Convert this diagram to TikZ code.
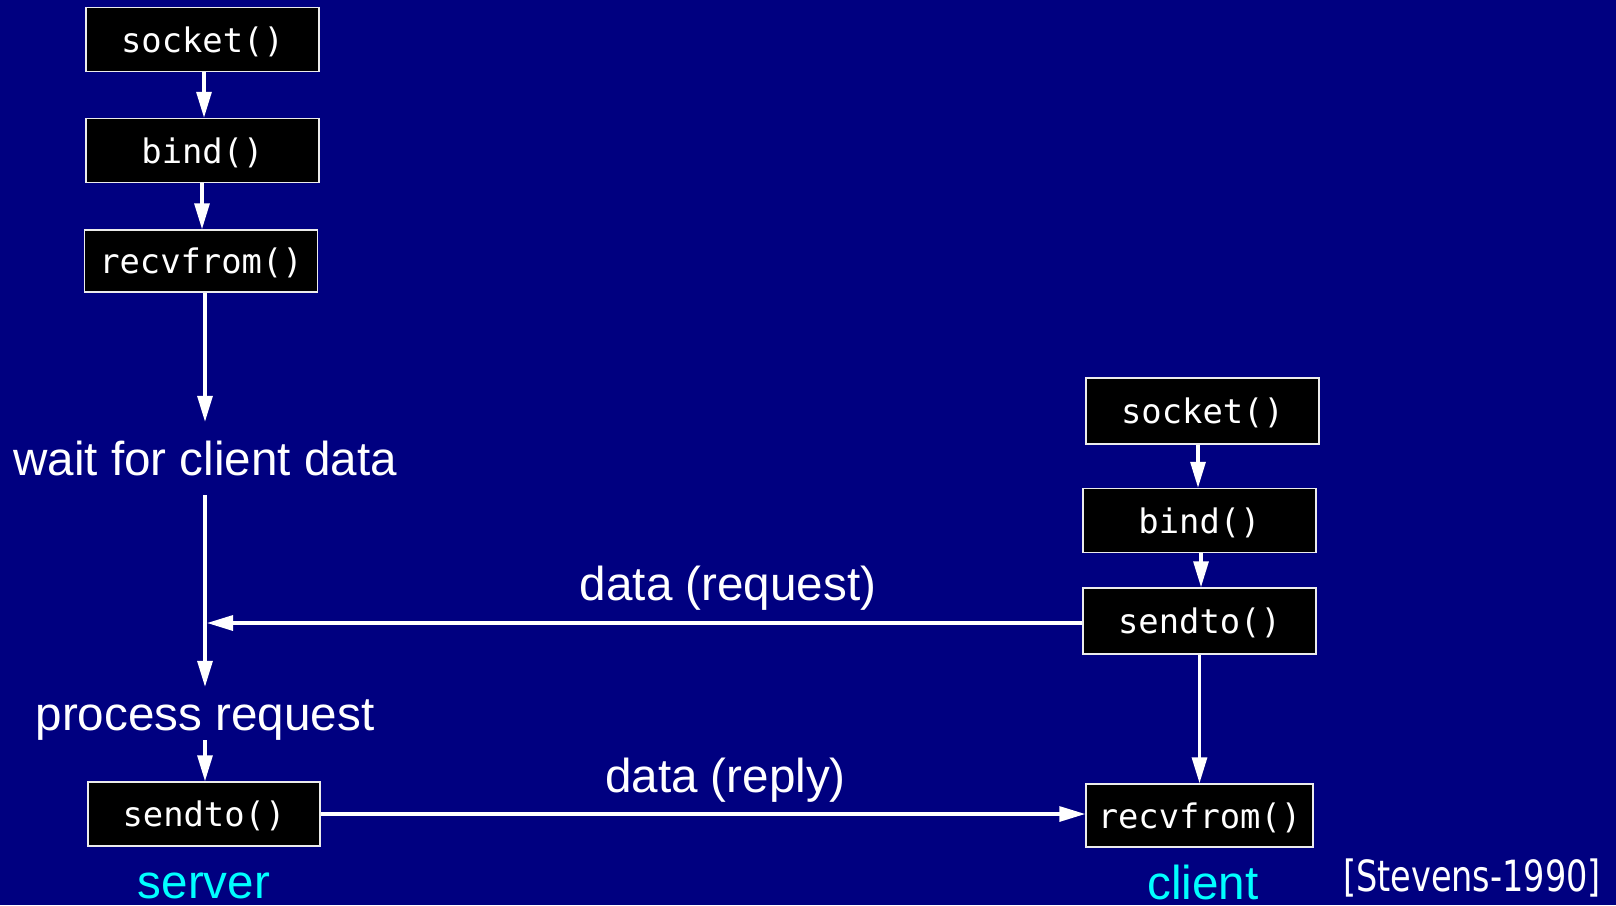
\documentclass[tikz,border=0pt]{standalone}
\usepackage{fontspec}
\setmainfont{Liberation Sans}
\newfontfamily\callfont{DejaVu Sans Mono}
\newfontfamily\citefont{DejaVu Sans}
\usetikzlibrary{arrows.meta,calc}
\definecolor{slidebg}{HTML}{000080}
\definecolor{rolecol}{HTML}{00FFFF}
\begin{document}
\begin{tikzpicture}[x=1pt,y=-1pt,
  call/.style={draw=white!92!black, line width=1.5pt, fill=black, text=white,
    minimum width=233pt, minimum height=64pt, inner sep=0pt,
    text height=25pt, text depth=0pt,
    font=\callfont\fontsize{33.8}{37}\selectfont},
  lbl/.style={text=white, inner sep=0pt, anchor=base,
    font=\fontsize{47.6}{52}\selectfont},
  role/.style={text=rolecol, inner sep=0pt, anchor=base,
    font=\fontsize{47.6}{52}\selectfont},
  flow/.style={draw=white, line width=3.2pt,
    -{Triangle[length=26pt,width=15pt]}}]
  \fill[slidebg] (0,0) rectangle (1616,905);
  \useasboundingbox (0,0) rectangle (1616,905);

  % server side
  \node[call] (lsock) at (202.5,39.5) {socket()};
  \node[call] (lbind) at (202.5,150.5) {bind()};
  \node[call, minimum height=62pt] (lrecv) at (201,261) {recvfrom()};
  \node[lbl, text height=33pt, text depth=0pt, inner ysep=20pt] (wait) at (205,475) {wait for client data};
  \node[lbl, text height=33pt, text depth=0pt, inner ysep=10pt] (proc) at (205,730) {process request};
  \node[call, minimum width=232pt] (lsend) at (204,814) {sendto()};
  \node[role] (srv) at (204,898) {server};

  % client side
  \node[call, minimum height=66pt] (rsock) at (1202.5,411) {socket()};
  \node[call] (rbind) at (1199.5,520.5) {bind()};
  \node[call, minimum height=66pt] (rsend) at (1199.5,621) {sendto()};
  \node[call, minimum width=227pt, minimum height=63pt] (rrecv) at (1199.5,815.5) {recvfrom()};
  \node[role] (cli) at (1203,899) {client};

  % message labels and citation
  \node[lbl] (req) at (728,600) {data (request)};
  \node[lbl] (rep) at (725.5,792) {data (reply)};
  \node[text=white, inner sep=0pt, anchor=base, font=\citefont\fontsize{43}{46}\selectfont]
    (cite) at (1472,891) {\scalebox{0.78}[1]{[Stevens-1990]}};

  % server flow
  \draw[flow] (lsock.south -| 204,0) -- (lbind.north -| 204,0);
  \draw[flow] (lbind.south -| 202,0) -- (lrecv.north -| 202,0);
  \draw[flow] (lrecv.south -| wait.south) -- (wait.north);
  \draw[flow] (wait.south) -- (proc.north);
  \draw[flow] (proc.south) -- (lsend.north -| proc.south);

  % client flow
  \draw[flow] (rsock.south -| 1198,0) -- (rbind.north -| 1198,0);
  \draw[flow] (rbind.south -| 1201,0) -- (rsend.north -| 1201,0);
  \draw[flow] (rsend.south) -- (rrecv.north);

  % datagrams
  \draw[flow] (rsend.west |- 0,623) -- ($(wait.south |- 0,623)+(2,0)$);
  \draw[flow] (lsend.east) -- (rrecv.west |- lsend.east);
\end{tikzpicture}
\end{document}
